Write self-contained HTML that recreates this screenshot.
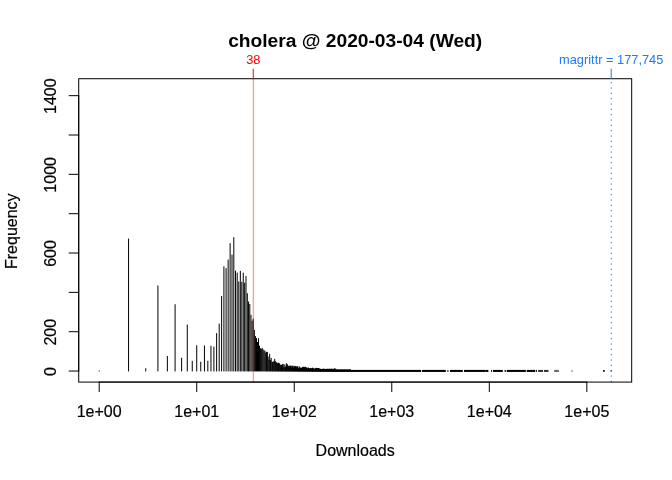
<!DOCTYPE html>
<html><head><meta charset="utf-8"><style>
html,body{margin:0;padding:0;background:#fff;width:672px;height:480px;overflow:hidden}
svg{display:block;will-change:transform}
.t,.t text{font-family:"Liberation Sans",sans-serif}

</style></head><body>
<svg width="672" height="480" viewBox="0 0 672 480">
<rect width="672" height="480" fill="#fff"/>
<g fill="none" stroke="#000" stroke-width="1" stroke-linecap="round">
<path d="M99.20 371.04V370.84M128.56 371.04V239.00M145.73 371.04V368.65M157.92 371.04V285.85M167.37 371.04V356.35M175.09 371.04V304.65M181.62 371.04V358.15M187.28 371.04V324.95M192.26 371.04V361.25M196.73 371.04V345.65M200.76 371.04V362.15M204.45 371.04V345.85M207.84 371.04V361.25M210.98 371.04V346.25M213.90 371.04V347.05M216.63 371.04V333.55M219.20 371.04V323.95M221.62 371.04V296.35M223.91 371.04V266.71M226.09 371.04V268.58M228.15 371.04V259.95M230.12 371.04V243.55M232.01 371.04V255.05M233.81 371.04V237.55M235.54 371.04V271.00M237.20 371.04V273.05M238.80 371.04V281.85M240.34 371.04V271.25M241.82 371.04V282.25M243.26 371.04V273.05M244.65 371.04V283.05M245.99 371.04V276.45M247.30 371.04V293.65M248.56 371.04V301.95M249.79 371.04V304.45M250.98 371.04V315.25M252.14 371.04V321.05M253.27 371.04V319.00M254.37 371.04V330.25M255.45 371.04V336.50M256.49 371.04V338.55M257.51 371.04V342.35M258.51 371.04V338.75M259.48 371.04V346.05M260.43 371.04V348.75M261.36 371.04V349.25M262.28 371.04V348.25M263.17 371.04V349.95M264.04 371.04V350.95M264.90 371.04V350.95M265.74 371.04V352.95M266.56 371.04V352.25M267.36 371.04V352.25M268.16 371.04V356.95M268.93 371.04V360.25M269.70 371.04V354.25M270.45 371.04V360.25M271.18 371.04V358.25M271.91 371.04V362.25M272.62 371.04V362.25M273.32 371.04V362.25M274.01 371.04V361.25M274.69 371.04V359.25M275.35 371.04V361.55M276.01 371.04V362.25M276.66 371.04V362.95M277.29 371.04V363.25M277.92 371.04V363.75M278.54 371.04V363.25M279.15 371.04V363.25M279.75 371.04V364.25M280.34 371.04V365.25M280.93 371.04V366.54M281.50 371.04V365.17M282.07 371.04V365.85M282.63 371.04V364.58M283.18 371.04V364.31M283.73 371.04V367.36M284.27 371.04V367.85M284.80 371.04V364.77M285.33 371.04V367.13M285.85 371.04V367.07M286.36 371.04V363.60M286.87 371.04V365.82M287.37 371.04V364.64M287.87 371.04V366.46M288.36 371.04V366.20M288.84 371.04V368.18M289.32 371.04V366.67M289.79 371.04V365.84M290.26 371.04V366.92M290.72 371.04V366.13M291.18 371.04V366.31M291.63 371.04V368.35M292.08 371.04V365.92M292.53 371.04V366.61M292.97 371.04V367.68M293.40 371.04V368.63M293.83 371.04V366.06M294.26 371.04V367.39M294.68 371.04V366.75M295.09 371.04V366.38M295.51 371.04V366.93M295.92 371.04V366.42M296.32 371.04V367.96M296.72 371.04V366.90M297.12 371.04V367.93M297.51 371.04V366.68M297.91 371.04V366.91M298.29 371.04V368.97M298.68 371.04V368.90M299.06 371.04V368.74M299.43 371.04V366.95M299.80 371.04V368.29M300.17 371.04V367.86M300.54 371.04V368.64M300.91 371.04V368.17M301.27 371.04V368.46M301.62 371.04V368.55M301.98 371.04V368.01M302.33 371.04V368.02M302.68 371.04V367.29M303.02 371.04V367.82M303.37 371.04V367.26M303.71 371.04V367.42M304.04 371.04V367.11M304.38 371.04V367.85M304.71 371.04V369.02M305.04 371.04V367.41M305.37 371.04V367.21M305.69 371.04V367.43M306.01 371.04V368.25M306.33 371.04V368.02M306.65 371.04V369.13M306.97 371.04V367.94M307.28 371.04V368.52M307.59 371.04V369.14M307.90 371.04V369.60M308.20 371.04V368.23M308.51 371.04V368.07M308.81 371.04V369.64M309.11 371.04V368.41M309.40 371.04V369.09M309.70 371.04V369.55M309.99 371.04V369.31M310.28 371.04V368.49M310.57 371.04V368.32M310.86 371.04V369.74M311.15 371.04V368.78M311.43 371.04V369.75M311.71 371.04V368.61M311.99 371.04V369.27M312.27 371.04V368.35M312.54 371.04V368.19M312.82 371.04V368.99M313.09 371.04V368.17M313.36 371.04V369.33M313.63 371.04V369.72M313.90 371.04V368.84M314.16 371.04V369.79M314.43 371.04V369.52M314.69 371.04V369.16M314.95 371.04V368.82M315.21 371.04V369.58M315.47 371.04V369.77M315.72 371.04V368.39M315.98 371.04V369.32M316.23 371.04V368.24M316.48 371.04V368.34M316.73 371.04V369.21M316.98 371.04V369.07M317.23 371.04V368.98M317.47 371.04V368.77M317.72 371.04V368.85M317.96 371.04V368.91M318.20 371.04V368.85M318.44 371.04V368.40M318.68 371.04V369.14M318.92 371.04V369.31M319.15 371.04V368.93M319.39 371.04V369.68M319.62 371.04V369.63M319.85 371.04V368.76M320.08 371.04V369.42M320.31 371.04V369.44M320.54 371.04V370.13M320.77 371.04V369.63M320.99 371.04V369.42M321.22 371.04V370.12M321.44 371.04V369.38M321.66 371.04V369.37M321.88 371.04V370.08M322.10 371.04V369.38M322.32 371.04V369.58M322.54 371.04V369.32M322.76 371.04V369.72M322.97 371.04V369.29M323.19 371.04V369.25M323.40 371.04V370.13M323.61 371.04V370.09M323.83 371.04V369.33M324.04 371.04V368.98M324.24 371.04V369.86M324.45 371.04V369.61M324.66 371.04V369.44M324.87 371.04V369.78M325.07 371.04V369.73M325.28 371.04V369.79M325.48 371.04V369.72M325.68 371.04V369.45M325.88 371.04V369.81M326.08 371.04V369.72M326.28 371.04V369.24M326.48 371.04V370.15M326.68 371.04V369.49M326.87 371.04V369.29M327.07 371.04V369.81M327.26 371.04V369.91M327.46 371.04V369.22M327.65 371.04V369.90M327.84 371.04V369.96M328.03 371.04V369.67M328.22 371.04V369.35M328.41 371.04V370.07M328.60 371.04V369.81M328.79 371.04V369.79M328.98 371.04V369.20M329.16 371.04V369.67M329.35 371.04V369.18M329.53 371.04V369.99M329.72 371.04V369.80M329.90 371.04V369.43M330.08 371.04V369.15M330.26 371.04V369.67M330.44 371.04V369.93M330.62 371.04V370.06M330.80 371.04V369.58M330.98 371.04V369.98M331.16 371.04V369.26M331.34 371.04V369.22M331.51 371.04V369.99M331.69 371.04V369.88M331.86 371.04V369.26M332.04 371.04V369.46M332.21 371.04V369.27M332.38 371.04V369.81M332.55 371.04V370.06M332.73 371.04V369.87M332.90 371.04V369.29M333.07 371.04V369.90M333.23 371.04V369.81M333.40 371.04V369.73M333.57 371.04V369.73M333.74 371.04V369.74M333.90 371.04V369.16M334.07 371.04V370.04M334.23 371.04V370.21M334.40 371.04V369.14M334.56 371.04V369.21M334.73 371.04V369.09M334.89 371.04V369.73M335.05 371.04V369.14M335.21 371.04V369.17M335.37 371.04V369.97M335.53 371.04V369.38M335.69 371.04V369.28M335.85 371.04V369.47"/>
</g>
<g fill="#000"><rect x="336.00" y="369.30" width="15.00" height="2.65"/><rect x="351.00" y="369.90" width="70.10" height="2.05"/><rect x="422.00" y="369.90" width="23.80" height="2.05"/><rect x="447.00" y="369.90" width="1.70" height="2.05" opacity="0.6"/><rect x="450.00" y="369.90" width="12.80" height="2.05"/><rect x="464.00" y="369.90" width="21.80" height="2.05"/><rect x="486.00" y="369.90" width="2.40" height="2.05"/><rect x="491.10" y="369.90" width="0.90" height="2.05"/><rect x="492.90" y="369.90" width="9.90" height="2.05"/><rect x="504.60" y="369.90" width="1.20" height="2.05"/><rect x="506.70" y="369.90" width="19.10" height="2.05"/><rect x="526.70" y="369.90" width="8.60" height="2.05"/><rect x="536.00" y="369.90" width="0.90" height="2.05"/><rect x="538.10" y="369.90" width="5.00" height="2.05" opacity="0.8"/><rect x="544.00" y="369.90" width="4.50" height="2.05" opacity="0.8"/><rect x="554.20" y="369.90" width="4.70" height="2.05" opacity="0.6"/><rect x="571.10" y="369.90" width="1.50" height="2.05" opacity="0.35"/><rect x="603.1" y="370.0" width="1.6" height="1.8"/><rect x="610.60" y="370.0" width="1.2" height="1.8" opacity="0.7"/></g>
<line x1="253.27" y1="382.08" x2="253.27" y2="78.72" stroke="rgba(255,0,0,0.5)" stroke-width="1"/>
<line x1="611.20" y1="382.08" x2="611.20" y2="78.72" stroke="#1F78FF" stroke-width="1" stroke-dasharray="1.333 4"/>
<g fill="none" stroke="#000" stroke-width="1" stroke-linecap="round">
<rect x="78.72" y="78.72" width="552.96" height="303.36" stroke-linecap="butt"/>
<path d="M99.20 382.08H586.84M99.20 382.08V391.68M196.73 382.08V391.68M294.26 382.08V391.68M391.78 382.08V391.68M489.31 382.08V391.68M586.84 382.08V391.68"/>
<path d="M78.72 371.04V95.66M78.72 371.04H69.12M78.72 331.70H69.12M78.72 292.36H69.12M78.72 253.02H69.12M78.72 213.68H69.12M78.72 174.34H69.12M78.72 135.00H69.12M78.72 95.66H69.12"/>
</g>
<line x1="253.27" y1="78.72" x2="253.27" y2="69.12" stroke="#f00" stroke-width="1" stroke-linecap="round"/>
<line x1="611.20" y1="78.72" x2="611.20" y2="69.12" stroke="#1F78FF" stroke-width="1" stroke-linecap="round"/>
<g class="t" font-size="16" text-anchor="middle" fill="#000" stroke="#000" stroke-width="0.2">
<text x="99.20" y="416.7">1e+00</text><text x="196.73" y="416.7">1e+01</text><text x="294.26" y="416.7">1e+02</text><text x="391.78" y="416.7">1e+03</text><text x="489.31" y="416.7">1e+04</text><text x="586.84" y="416.7">1e+05</text>
<text transform="translate(55.8 371.54) rotate(-90)">0</text><text transform="translate(55.8 332.20) rotate(-90)">200</text><text transform="translate(55.8 253.52) rotate(-90)">600</text><text transform="translate(55.8 174.84) rotate(-90)">1000</text><text transform="translate(55.8 96.16) rotate(-90)">1400</text>
<text x="355.20" y="455.8">Downloads</text>
<text transform="translate(17.1 231.20) rotate(-90)">Frequency</text>
</g>
<text class="t" x="355.20" y="47.0" font-size="19.2" font-weight="bold" text-anchor="middle" fill="#000">cholera @ 2020-03-04 (Wed)</text>
<text class="t" x="253.27" y="63.9" font-size="12.8" text-anchor="middle" fill="#f00">38</text>
<text class="t" x="611.20" y="63.9" font-size="12.8" text-anchor="middle" fill="#1F78FF">magrittr = 177,745</text>
</svg>
</body></html>
